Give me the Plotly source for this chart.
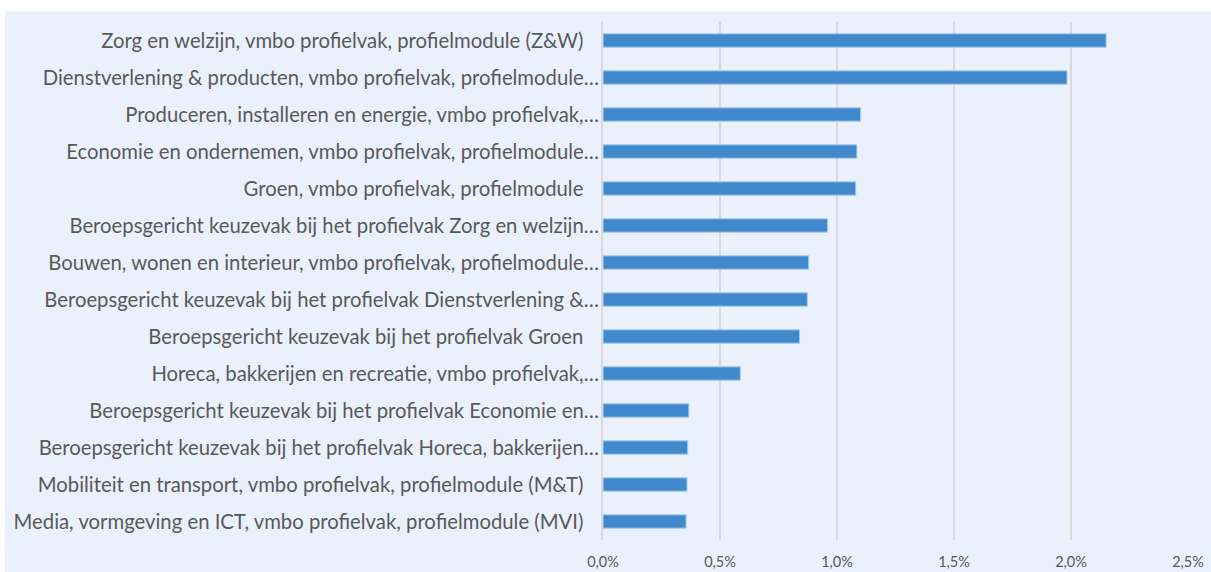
import plotly.graph_objects as go

categories = [
    "Zorg en welzijn, vmbo profielvak, profielmodule (Z&W)",
    "Dienstverlening & producten, vmbo profielvak, profielmodule…",
    "Produceren, installeren en energie, vmbo profielvak,…",
    "Economie en ondernemen, vmbo profielvak, profielmodule…",
    "Groen, vmbo profielvak, profielmodule",
    "Beroepsgericht keuzevak bij het profielvak Zorg en welzijn…",
    "Bouwen, wonen en interieur, vmbo profielvak, profielmodule…",
    "Beroepsgericht keuzevak bij het profielvak Dienstverlening &…",
    "Beroepsgericht keuzevak bij het profielvak Groen",
    "Horeca, bakkerijen en recreatie, vmbo profielvak,…",
    "Beroepsgericht keuzevak bij het profielvak Economie en…",
    "Beroepsgericht keuzevak bij het profielvak Horeca, bakkerijen…",
    "Mobiliteit en transport, vmbo profielvak, profielmodule (M&T)",
    "Media, vormgeving en ICT, vmbo profielvak, profielmodule (MVI)",
]
values = [2.15, 1.983, 1.101, 1.085, 1.080, 0.960, 0.879, 0.873, 0.840,
          0.587, 0.367, 0.362, 0.359, 0.355]

tick_vals = [0.0, 0.5, 1.0, 1.5, 2.0, 2.5]
tick_text = ["0,0%", "0,5%", "1,0%", "1,5%", "2,0%", "2,5%"]

# labels without ellipsis get trailing padding like the original
display_labels = [c if c.endswith("…") else c + "\u00a0\u00a0\u00a0" for c in categories]

BG = "#EAF1FD"

fig = go.Figure(go.Bar(
    x=values,
    y=display_labels,
    orientation="h",
    marker=dict(color="#3F89CC", line=dict(color="#A9CBEE", width=1)),
    width=0.36,
))

fig.update_layout(
    width=1211, height=572,
    margin=dict(l=603, r=23, t=22, b=32, autoexpand=False),
    paper_bgcolor="white",
    plot_bgcolor=BG,
    showlegend=False,
    font=dict(family="Lato, 'Open Sans', sans-serif", color="#595959"),
    shapes=[dict(type="rect", xref="paper", yref="paper",
                 x0=-598 / 585, x1=1 + 23 / 585, y0=-32 / 518, y1=1 + 11 / 518,
                 fillcolor=BG, line=dict(width=0), layer="below")],
)

fig.update_xaxes(
    range=[0, 2.5],
    tickvals=tick_vals, ticktext=tick_text,
    showgrid=True, gridcolor="#D9D9D9", gridwidth=2,
    zeroline=False, showline=False,
    tickfont=dict(size=14.5, color="#595959"),
    ticks="", ticklen=0, ticklabelstandoff=11,
)
fig.update_yaxes(
    autorange="reversed",
    showgrid=False,
    showline=True, linecolor="#D9D9D9", linewidth=2,
    tickfont=dict(size=20.3, color="#595959"),
    ticks="", ticklabelstandoff=-2,
)

fig.write_html("out.html",
               config={"displayModeBar": False},
               post_script="document.body.style.margin='0';document.body.style.padding='0';")
